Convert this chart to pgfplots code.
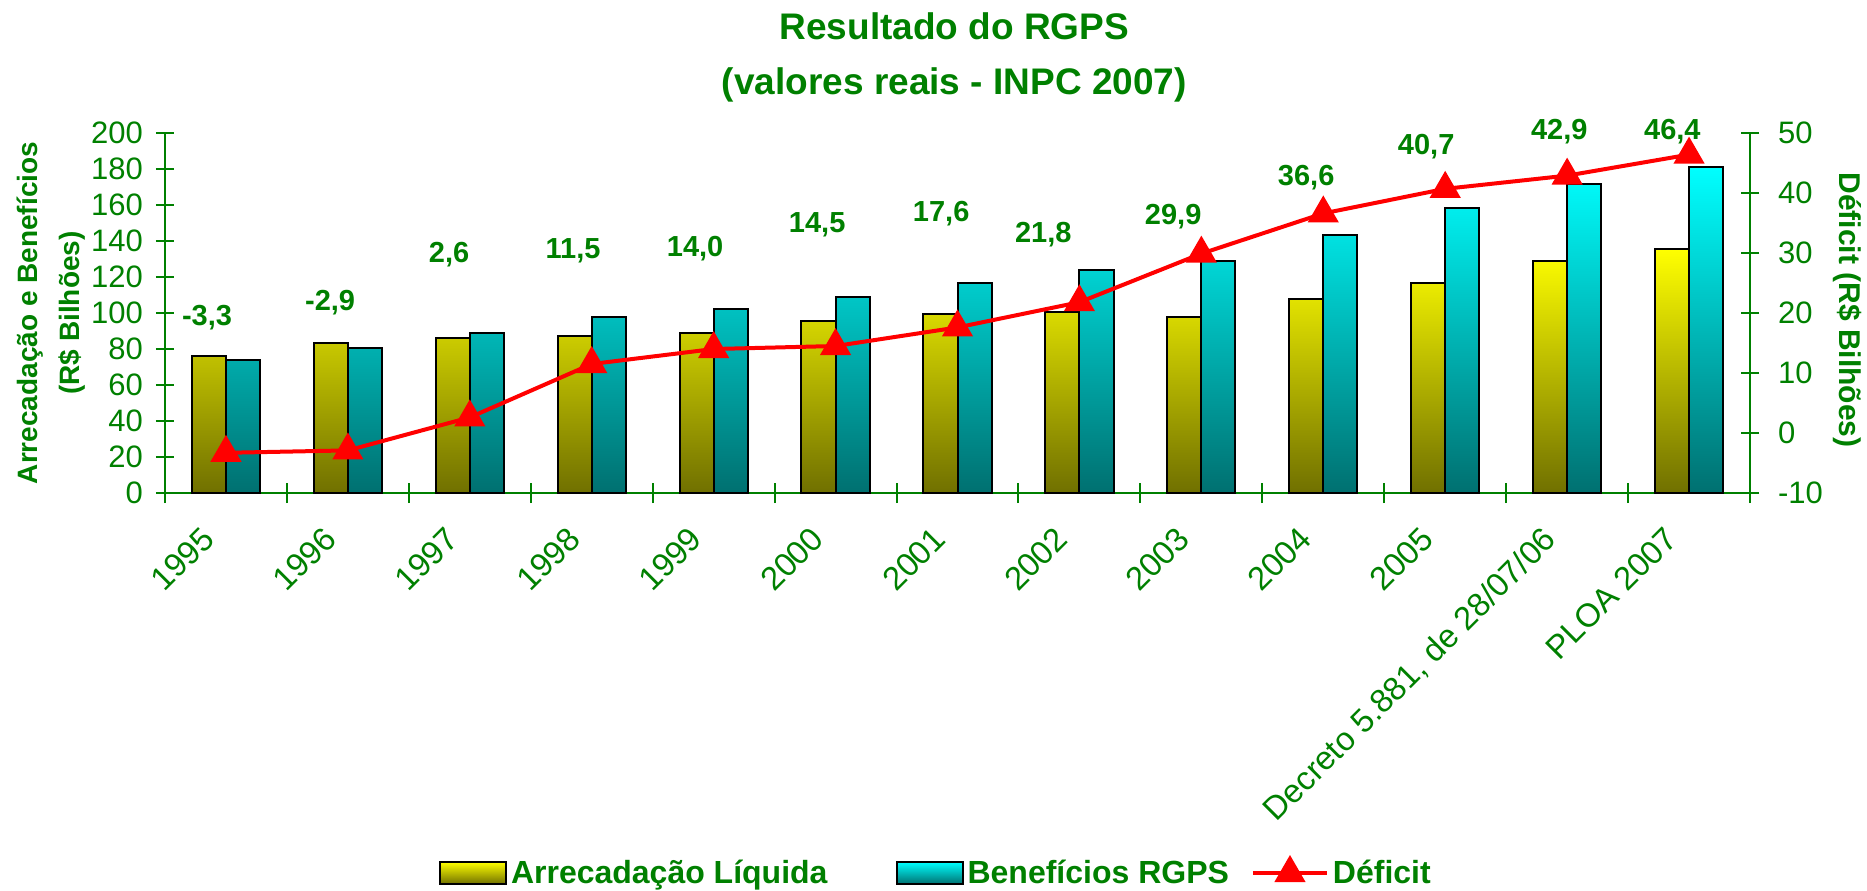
\documentclass[border=0pt]{standalone}
\usepackage{pgfplots}
\pgfplotsset{compat=1.18}
\usepackage{fontspec}
\setmainfont{Liberation Sans}
\definecolor{xg}{RGB}{0,128,0}
\definecolor{olivedk}{RGB}{112,112,0}
\definecolor{yel}{RGB}{255,255,0}
\definecolor{cyn}{RGB}{0,255,255}
\definecolor{tealdk}{RGB}{0,112,112}
\definecolor{xred}{RGB}{255,0,0}

\pgfplotstableread{
x arr ben
0 76.3 73.9
1 83.2 80.4
2 85.9 88.7
3 87.2 97.9
4 89.1 102.0
5 95.6 108.7
6 99.3 116.8
7 100.7 123.9
8 97.8 128.7
9 107.6 143.5
10 116.9 158.3
11 128.7 171.7
12 135.4 180.9
}\bars

\pgfplotstableread{
x def
0 -3.3
1 -2.9
2 2.6
3 11.5
4 14.0
5 14.5
6 17.6
7 21.8
8 29.9
9 36.6
10 40.7
11 42.9
12 46.4
}\deficit

\pgfplotsset{
  base/.style={
    scale only axis, width=792.5pt, height=180pt,
    at={(0pt,0pt)}, anchor=south west,
    xmin=-0.5, xmax=12.5,
    clip=false,
    /pgf/number format/assume math mode=true,
    axis line style={xg, line width=1pt, -},
    every tick/.style={xg, line width=1pt},
    major tick length=9pt,
    minor tick length=10pt,
  },
  barleg/.style={legend image code/.code={\draw[##1] (0pt,-5.5pt) rectangle (33pt,5.5pt);}},
  lineleg/.style={legend image code/.code={\draw[##1, mark=none] (0pt,0pt) -- (37pt,0pt); \draw[##1, only marks] plot coordinates {(18.5pt,0pt)};}},
}

\begin{document}
\begin{tikzpicture}
\useasboundingbox (-82.5pt,-198.5pt) rectangle (851pt,246.5pt);
\begin{axis}[base,
  axis x line*=bottom, axis y line*=left,
  tick align=center, xtick align=center, ytick align=center,
  ymin=0, ymax=200, ytick={0,20,...,200},
  yticklabel style={font=\fontsize{15.5}{18}\selectfont, text=xg, xshift=-3pt},
  xtick={0,...,12},
  xticklabels={1995,1996,1997,1998,1999,2000,2001,2002,2003,2004,2005,{Decreto 5.881, de 28/07/06},PLOA 2007},
  major x tick style={draw=none},
  minor xtick={-0.5,0.5,...,12.5},
  minor x tick style={yshift=5pt},
  xticklabel style={font=\fontsize{16.4}{20}\selectfont, text=xg, xshift=-13pt, yshift=-2pt, rotate=45, anchor=north east},
  ylabel={Arrecadação e Benefícios\\(R\$ Bilhões)},
  ylabel style={at={(axis description cs:-0.0719,0.5)}, anchor=center, align=center, font=\fontsize{14}{21}\selectfont\bfseries, text=xg},
  ybar, bar width=0.28,
]
\addplot[draw=black, line width=1pt, top color=yel, bottom color=olivedk, bar shift=-0.14] table[x=x, y=arr] {\bars};
\addplot[draw=black, line width=1pt, top color=cyn, bottom color=tealdk, bar shift=0.14] table[x=x, y=ben] {\bars};
\node[align=center, font=\fontsize{18.5}{27.5}\selectfont\bfseries, text=xg] at (axis description cs:0.498,1.211) {Resultado do RGPS\\(valores reais - INPC 2007)};
\end{axis}
\begin{axis}[base,
  axis x line=none, axis y line*=right,
  tick align=center, ytick align=center,
  ymin=-10, ymax=50, ytick={-10,0,...,50},
  yticklabel style={font=\fontsize{15.5}{18}\selectfont, text=xg, xshift=6pt},
  ylabel={Déficit (R\$ Bilhões)},
  ylabel style={at={(axis description cs:1.0612,0.508)}, anchor=center, rotate=180, font=\fontsize{15}{18}\selectfont\bfseries, text=xg},
  legend columns=3,
  legend style={draw=none, fill=none, at={(axis description cs:0.487,-1.0556)}, anchor=center,
    font=\fontsize{16}{19}\selectfont\bfseries, text=xg,
    /tikz/every even column/.append style={column sep=9pt},
    nodes={inner sep=2pt}},
]
\addlegendimage{barleg, draw=black, line width=1pt, top color=yel, bottom color=olivedk}
\addlegendentry{Arrecadação Líquida\hspace*{23pt}}
\addlegendimage{barleg, draw=black, line width=1pt, top color=cyn, bottom color=tealdk}
\addlegendentry{Benefícios RGPS}
\addplot[lineleg, xred, line width=2pt, mark=triangle*, mark size=7pt, mark options={solid}] table[x=x, y=def] {\deficit};
\addlegendentry{Déficit}
\begin{scope}[every node/.style={font=\fontsize{14.5}{17}\selectfont\bfseries, text=xg}]
\node at (axis cs:-0.155,19.2) {-3,3};
\node at (axis cs:0.854,21.7) {-2,9};
\node at (axis cs:1.83,29.7) {2,6};
\node at (axis cs:2.847,30.3) {11,5};
\node at (axis cs:3.848,30.7) {14,0};
\node at (axis cs:4.849,34.7) {14,5};
\node at (axis cs:5.866,36.5) {17,6};
\node at (axis cs:6.703,33.0) {21,8};
\node at (axis cs:7.769,36.0) {29,9};
\node at (axis cs:8.86,42.5) {36,6};
\node at (axis cs:9.844,47.7) {40,7};
\node at (axis cs:10.936,50.2) {42,9};
\node at (axis cs:11.863,50.2) {46,4};
\end{scope}
\end{axis}
\end{tikzpicture}
\end{document}
